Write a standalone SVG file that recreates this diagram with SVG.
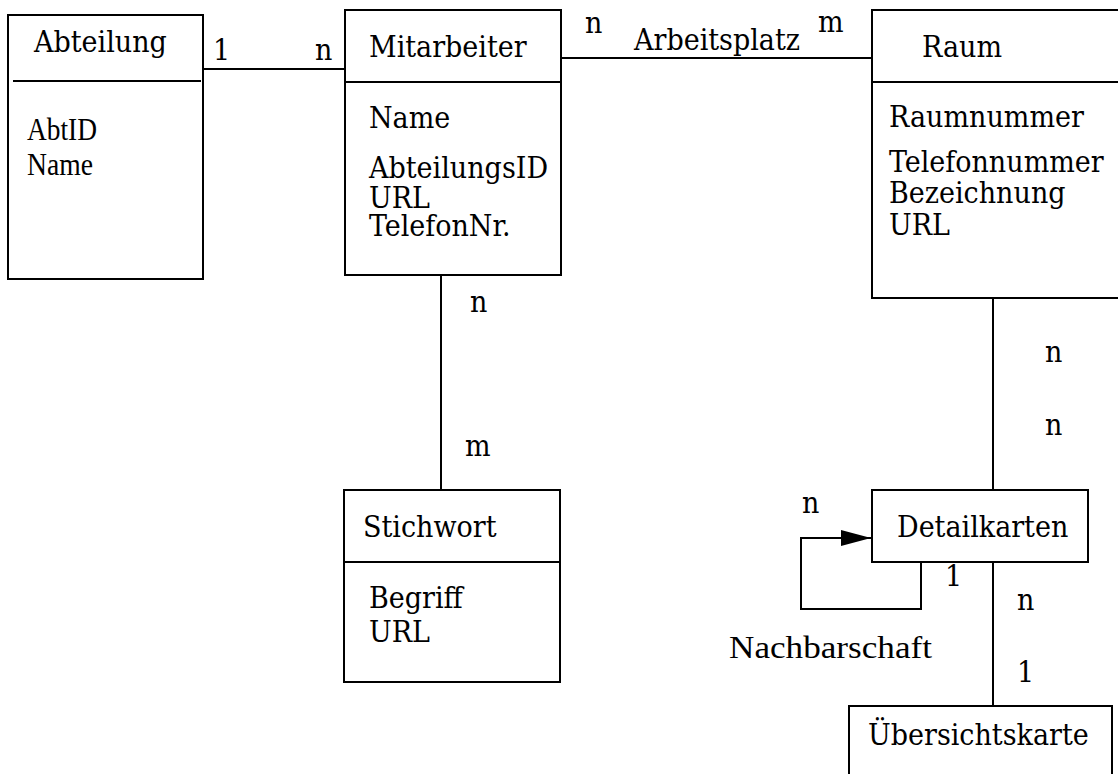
<svg xmlns="http://www.w3.org/2000/svg" width="1118" height="774" viewBox="0 0 1118 774">
<style>
.box{fill:#fff;stroke:#000;stroke-width:2}
.ln{fill:none;stroke:#000;stroke-width:2}
.t{font-family:"DejaVu Serif Condensed","DejaVu Serif",serif;font-stretch:condensed;font-size:30px;fill:#000}
.tt{font-family:"Liberation Serif",serif;font-size:31px;fill:#000}
</style>
<defs>
<marker id="arr" markerWidth="32" markerHeight="18" refX="30" refY="8" orient="auto" markerUnits="userSpaceOnUse">
<path d="M0,0 L30,8 L0,16 Z" fill="#000"/>
</marker>
</defs>
<rect width="1118" height="774" fill="#fff"/>
<g id="connectors">
<line class="ln" x1="203" y1="69" x2="345" y2="69"/>
<line class="ln" x1="561" y1="58" x2="872" y2="58"/>
<line class="ln" x1="441" y1="275" x2="441" y2="490"/>
<line class="ln" x1="993" y1="298" x2="993" y2="490"/>
<line class="ln" x1="993" y1="562" x2="993" y2="706"/>
<polyline class="ln" points="921,562 921,609 801,609 801,538 871,538" marker-end="url(#arr)"/>
<text class="t" x="213" y="60">1</text>
<text class="t" x="315" y="60">n</text>
<text class="t" x="585" y="33">n</text>
<text class="t" x="634" y="50">Arbeitsplatz</text>
<text class="t" x="818" y="32">m</text>
<text class="t" x="470" y="312">n</text>
<text class="t" x="465" y="456">m</text>
<text class="t" x="1045" y="362">n</text>
<text class="t" x="1045" y="435">n</text>
<text class="t" x="802" y="513">n</text>
<text class="t" x="945" y="586">1</text>
<text class="t" x="1017" y="610">n</text>
<text class="t" x="1017" y="682">1</text>
<text class="tt" x="729" y="658" font-size="35" textLength="203" lengthAdjust="spacingAndGlyphs">Nachbarschaft</text>
</g>
<g id="abteilung">
<rect class="box" x="8" y="15" width="195" height="264"/>
<line class="ln" x1="13" y1="81" x2="201" y2="81"/>
<text class="t" x="34" y="52">Abteilung</text>
<text class="tt" x="27" y="140" textLength="70" lengthAdjust="spacingAndGlyphs">AbtID</text>
<text class="tt" x="27" y="175" textLength="66" lengthAdjust="spacingAndGlyphs">Name</text>
</g>
<g id="mitarbeiter">
<rect class="box" x="345" y="10" width="216" height="265"/>
<line class="ln" x1="345" y1="82" x2="561" y2="82"/>
<text class="t" x="369" y="57">Mitarbeiter</text>
<text class="t" x="369" y="128">Name</text>
<text class="t" x="369" y="178">AbteilungsID</text>
<text class="t" x="369" y="208">URL</text>
<text class="t" x="369" y="236">TelefonNr.</text>
</g>
<g id="raum">
<rect class="box" x="872" y="10" width="260" height="288"/>
<line class="ln" x1="872" y1="82" x2="1118" y2="82"/>
<text class="t" x="922" y="57">Raum</text>
<text class="t" x="889" y="127">Raumnummer</text>
<text class="t" x="889" y="172">Telefonnummer</text>
<text class="t" x="889" y="203">Bezeichnung</text>
<text class="t" x="889" y="235">URL</text>
</g>
<g id="stichwort">
<rect class="box" x="344" y="490" width="216" height="192"/>
<line class="ln" x1="344" y1="562" x2="560" y2="562"/>
<text class="t" x="363" y="537">Stichwort</text>
<text class="t" x="369" y="608">Begriff</text>
<text class="t" x="369" y="642">URL</text>
</g>
<g id="detailkarten">
<rect class="box" x="872" y="490" width="216" height="72"/>
<text class="t" x="897" y="537">Detailkarten</text>
</g>
<g id="uebersichtskarte">
<rect class="box" x="849" y="706" width="263" height="90"/>
<text class="t" x="868" y="745">Übersichtskarte</text>
</g>
</svg>
